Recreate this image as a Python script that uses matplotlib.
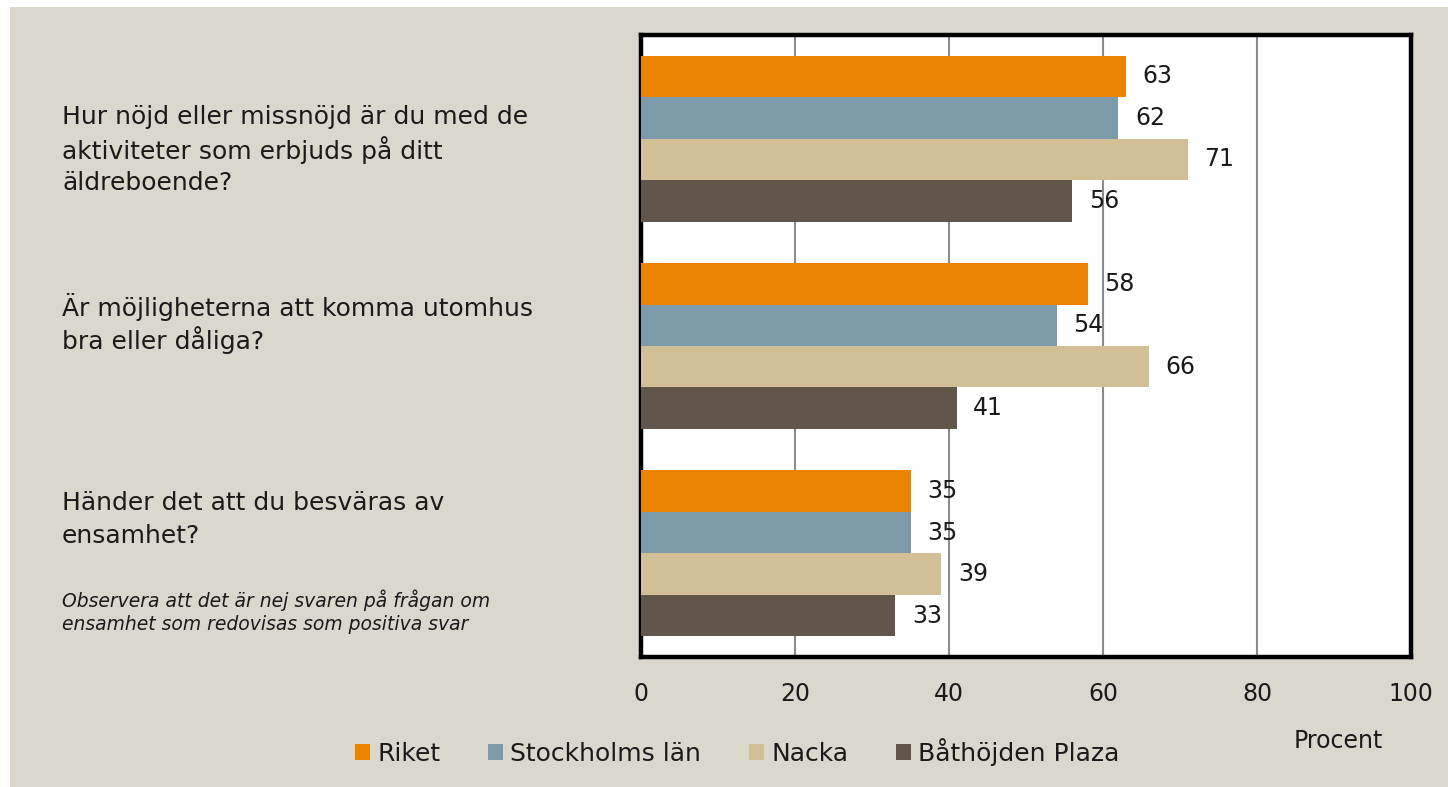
import matplotlib.pyplot as plt
from matplotlib.patches import Rectangle
import numpy as np

plt.rcParams['font.family'] = ['DejaVu Sans']

questions = [
    "Hur nöjd eller missnöjd är du med de\naktiviteter som erbjuds på ditt\näldreboende?",
    "Är möjligheterna att komma utomhus\nbra eller dåliga?",
    "Händer det att du besväras av\nensamhet?",
]
series = ["Riket", "Stockholms län", "Nacka", "Båthöjden Plaza"]
riket = [63, 58, 35]
stockholm = [62, 54, 35]
nacka = [71, 66, 39]
bathojden = [56, 41, 33]
colors = ["#E98300", "#7D9AAA", "#D3BF96", "#62554A"]
note = "Observera att det är nej svaren på frågan om\nensamhet som redovisas som positiva svar"

bg = "#DAD8CC"
txt = "#1a1a1a"
fig = plt.figure(figsize=(14.48, 7.87), dpi=100, facecolor="white")
fig.patches.append(Rectangle((10 / 1448, 0), 1, 1 - 7 / 787, transform=fig.transFigure,
                             facecolor=bg, edgecolor="none", zorder=-5))

ax = fig.add_axes([641 / 1448, 1 - 657 / 787, 770 / 1448, 622 / 787])
ax.set_facecolor("white")

h = 0.2
groups = np.arange(len(questions))
for i, (name, vals) in enumerate(zip(series, [riket, stockholm, nacka, bathojden])):
    y = groups - 0.3 + i * h
    ax.barh(y, vals, height=h, color=colors[i], label=name, zorder=3)
    for yy, v in zip(y, vals):
        ax.annotate(str(v), (v, yy), xytext=(12, 0), textcoords="offset points",
                    ha="left", va="center", fontsize=17, color=txt)

ax.set_xlim(0, 100)
ax.set_ylim(2.5, -0.5)
ax.set_xticks([0, 20, 40, 60, 80, 100])
ax.set_yticks([])
ax.tick_params(axis="x", length=0, pad=18, labelsize=17, labelcolor=txt)
ax.xaxis.grid(True, color="#8c8c8c", linewidth=1.5, zorder=1)
for s in ax.spines.values():
    s.set_linewidth(3.2)
    s.set_color("black")

# question labels, placed by the y position of their first line
first_lines = [117, 307, 503]
for q, yl in zip(questions, first_lines):
    for k, line in enumerate(q.split("\n")):
        fig.text(62 / 1448, 1 - (yl + 33 * k) / 787, line, ha="left", va="center",
                 fontsize=18, color=txt)

for k, line in enumerate(note.split("\n")):
    fig.text(62 / 1448, 1 - (600 + 25 * k) / 787, line, ha="left", va="center",
             fontsize=13.5, style="italic", color=txt)

fig.text(1338 / 1448, 1 - 741 / 787, "Procent", ha="center", va="center",
         fontsize=17, color=txt)

handles, labels = ax.get_legend_handles_labels()
fig.legend(handles, labels, loc="center left", bbox_to_anchor=(332 / 1448, 1 - 752 / 787),
           ncol=4, frameon=False, fontsize=18, handlelength=0.6, handleheight=0.6,
           handletextpad=0.3, columnspacing=1.9, labelcolor=txt)

fig.savefig("out.png", dpi=100, facecolor="white")
